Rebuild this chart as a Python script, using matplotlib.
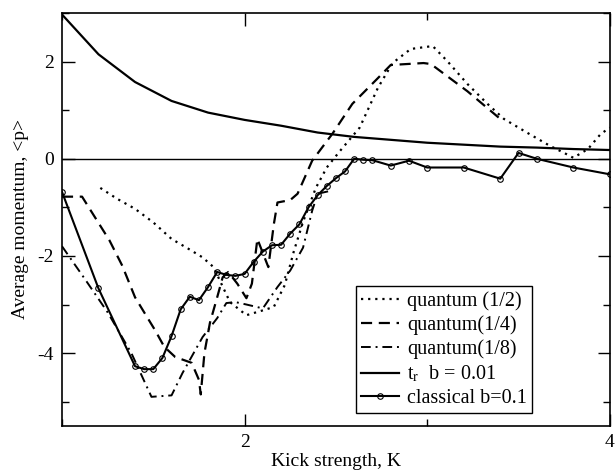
import matplotlib
matplotlib.use("Agg")
import matplotlib.pyplot as plt
from matplotlib.ticker import MultipleLocator

plt.rcParams["font.family"] = ["Liberation Serif", "DejaVu Serif"]
plt.rcParams["mathtext.fontset"] = "stix"
plt.rcParams["axes.unicode_minus"] = False

# quantum, h = 1/2
k_half = [1.21, 1.30, 1.40, 1.50, 1.60, 1.70, 1.77, 1.83, 1.92, 2.01, 2.10, 2.16,
          2.22, 2.27, 2.32, 2.39, 2.45, 2.52, 2.63, 2.73, 2.81, 2.91, 3.03, 3.11,
          3.22, 3.33, 3.42, 3.55, 3.67, 3.75, 3.80, 3.88, 3.95, 4.00]
p_half = [-0.60, -0.82, -1.03, -1.31, -1.65, -1.87, -2.03, -2.23, -2.95, -3.22, -3.12, -3.05,
          -2.60, -1.90, -1.30, -0.60, -0.18, 0.15, 0.64, 1.46, 1.97, 2.26, 2.32, 2.01,
          1.54, 1.13, 0.82, 0.53, 0.27, 0.12, 0.02, 0.20, 0.51, 0.64]

# quantum, h = 1/4
k_quarter = [1.00, 1.11, 1.26, 1.33, 1.40, 1.45, 1.51, 1.56, 1.62, 1.71, 1.75, 1.76,
             1.78, 1.81, 1.85, 1.88, 1.91, 1.96, 2.01, 2.04, 2.07, 2.13, 2.16, 2.18,
             2.25, 2.29, 2.37, 2.48, 2.59, 2.73, 2.80, 2.98, 3.02, 3.22, 3.40]
p_quarter = [-0.78, -0.78, -1.68, -2.20, -2.85, -3.16, -3.53, -3.87, -4.08, -4.20, -4.55, -4.85,
             -4.00, -3.38, -2.85, -2.44, -2.33, -2.57, -2.87, -2.57, -1.65, -2.23, -1.35, -0.90,
             -0.85, -0.72, -0.04, 0.51, 1.13, 1.66, 1.93, 1.97, 1.95, 1.39, 0.82]

# quantum, h = 1/8
k_eighth = [1.00, 1.13, 1.25, 1.38, 1.49, 1.60, 1.66, 1.77, 1.85, 1.90, 1.95, 2.01,
            2.10, 2.18, 2.25, 2.32, 2.37, 2.40, 2.47]
p_eighth = [-1.80, -2.50, -3.16, -4.00, -4.90, -4.87, -4.41, -3.67, -3.28, -2.97, -2.95, -3.00,
            -3.08, -2.64, -2.30, -1.83, -1.07, -0.72, -0.66]

# t_r, b = 0.01
k_tr = [1.00, 1.20, 1.40, 1.60, 1.80, 2.00, 2.20, 2.40, 2.60, 2.80, 3.00, 3.20, 3.40, 3.60, 3.80, 4.00]
p_tr = [2.97, 2.15, 1.58, 1.19, 0.95, 0.80, 0.68, 0.54, 0.45, 0.39, 0.33, 0.29, 0.25, 0.23, 0.20, 0.18]

# classical, b = 0.1
k_cl = [1.00, 1.20, 1.40, 1.45, 1.50, 1.55, 1.60, 1.65, 1.70, 1.75, 1.80, 1.85, 1.90, 1.95,
        2.00, 2.05, 2.10, 2.15, 2.20, 2.25, 2.30, 2.35, 2.40, 2.45, 2.50, 2.55, 2.60,
        2.65, 2.70, 2.80, 2.90, 3.00, 3.20, 3.40, 3.50, 3.60, 3.80, 4.00]
p_cl = [-0.68, -2.67, -4.27, -4.33, -4.33, -4.10, -3.65, -3.10, -2.84, -2.91, -2.64, -2.33, -2.39, -2.41,
        -2.37, -2.12, -1.91, -1.78, -1.77, -1.54, -1.35, -1.00, -0.75, -0.56, -0.40, -0.26, 0.00,
        -0.02, -0.03, -0.14, -0.04, -0.18, -0.18, -0.41, 0.12, 0.00, -0.18, -0.32]

fig = plt.figure(figsize=(6.16, 4.73), dpi=100)
ax = fig.add_axes([0.1006, 0.0994, 0.8894, 0.8731])

ax.axhline(0, color="black", lw=1.0, zorder=1)

ax.plot(k_half, p_half, color="black", lw=1.6, ls=(0, (1, 2.2)), label="quantum (1/2)")
ax.plot(k_quarter, p_quarter, color="black", lw=1.6, ls=(0, (5, 3)), label="quantum(1/4)")
ax.plot(k_eighth, p_eighth, color="black", lw=1.4, ls=(0, (5, 2.5, 1, 2.5)), label="quantum(1/8)")
ax.plot(k_tr, p_tr, color="black", lw=1.6, label=r"t$_{\rm r}$  b = 0.01")
ax.plot(k_cl, p_cl, color="black", lw=1.5, marker="o", ms=4, mfc="none", mew=0.8,
        label="classical b=0.1")

ax.set_xlim(1, 4)
ax.set_ylim(-5.5, 3)
ax.xaxis.set_major_locator(MultipleLocator(2))
ax.xaxis.set_minor_locator(MultipleLocator(1))
ax.yaxis.set_major_locator(MultipleLocator(2))
ax.yaxis.set_minor_locator(MultipleLocator(1))
ax.tick_params(which="both", direction="in", top=True, right=True, labelsize=14, width=1)
ax.tick_params(which="major", length=9, pad=6)
ax.tick_params(which="minor", length=5)
for s in ax.spines.values():
    s.set_linewidth(1.2)

ax.set_xlabel("Kick strength, K", fontsize=14, labelpad=1)
ax.set_ylabel("Average momentum, <p>", fontsize=14, labelpad=6)

leg = ax.legend(loc="lower right", bbox_to_anchor=(0.858, 0.031), fontsize=14.5, handlelength=1.9,
                handletextpad=0.4, labelspacing=0.22, borderpad=0.25, borderaxespad=0,
                fancybox=False, framealpha=1, edgecolor="black")
leg.get_frame().set_linewidth(1.0)

fig.savefig("out.png", dpi=100)
